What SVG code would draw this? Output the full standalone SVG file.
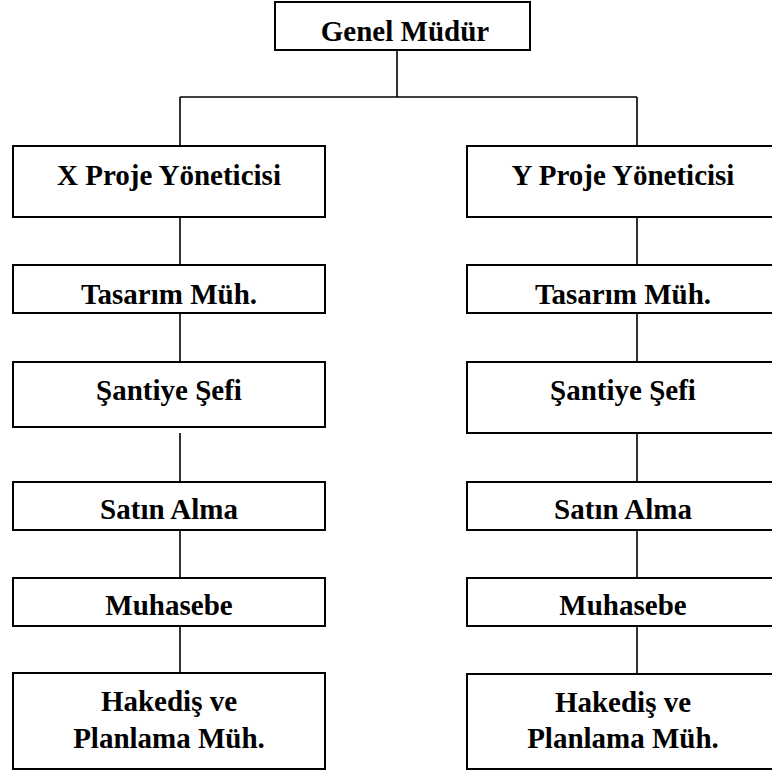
<svg xmlns="http://www.w3.org/2000/svg" width="772" height="771" viewBox="0 0 772 771">
<style>
.box{fill:#fff;stroke:#000;stroke-width:2}
.lbl{font-family:"Liberation Serif","Times New Roman",serif;font-weight:bold;font-size:29px;fill:#000;text-anchor:middle}
.con{stroke:#000;stroke-width:1.6;fill:none}
</style>
<rect width="772" height="771" fill="#fff"/>
<g id="connectors">
<path class="con" d="M397 50V97M180 97H637M180 97V146M637 97V146"/>
<path class="con" d="M180 217V265M180 313V362M180 433V482M180 530V578M180 626V673"/>
<path class="con" d="M637 217V265M637 313V362M637 433V482M637 530V578M637 626V674"/>
</g>
<g id="genel-mudur"><rect class="box" x="275" y="2" width="255" height="48"/><text class="lbl" x="405" y="41">Genel Müdür</text></g>
<g id="x-proje"><rect class="box" x="13" y="146" width="312" height="71"/><text class="lbl" x="169" y="185">X Proje Yöneticisi</text></g>
<g id="x-tasarim"><rect class="box" x="13" y="265" width="312" height="48"/><text class="lbl" x="169" y="304">Tasarım Müh.</text></g>
<g id="x-santiye"><rect class="box" x="13" y="362" width="312" height="65"/><text class="lbl" x="169" y="400">Şantiye Şefi</text></g>
<g id="x-satin"><rect class="box" x="13" y="482" width="312" height="48"/><text class="lbl" x="169" y="519">Satın Alma</text></g>
<g id="x-muhasebe"><rect class="box" x="13" y="578" width="312" height="48"/><text class="lbl" x="169" y="615">Muhasebe</text></g>
<g id="x-hakedis"><rect class="box" x="13" y="673" width="312" height="96"/><text class="lbl" x="169" y="711">Hakediş ve</text><text class="lbl" x="169" y="748">Planlama Müh.</text></g>
<g id="y-proje"><rect class="box" x="467" y="146" width="312" height="71"/><text class="lbl" x="623" y="185">Y Proje Yöneticisi</text></g>
<g id="y-tasarim"><rect class="box" x="467" y="265" width="312" height="48"/><text class="lbl" x="623" y="304">Tasarım Müh.</text></g>
<g id="y-santiye"><rect class="box" x="467" y="362" width="312" height="71"/><text class="lbl" x="623" y="400">Şantiye Şefi</text></g>
<g id="y-satin"><rect class="box" x="467" y="482" width="312" height="48"/><text class="lbl" x="623" y="519">Satın Alma</text></g>
<g id="y-muhasebe"><rect class="box" x="467" y="578" width="312" height="48"/><text class="lbl" x="623" y="615">Muhasebe</text></g>
<g id="y-hakedis"><rect class="box" x="467" y="674" width="312" height="95"/><text class="lbl" x="623" y="712">Hakediş ve</text><text class="lbl" x="623" y="748">Planlama Müh.</text></g>
</svg>
